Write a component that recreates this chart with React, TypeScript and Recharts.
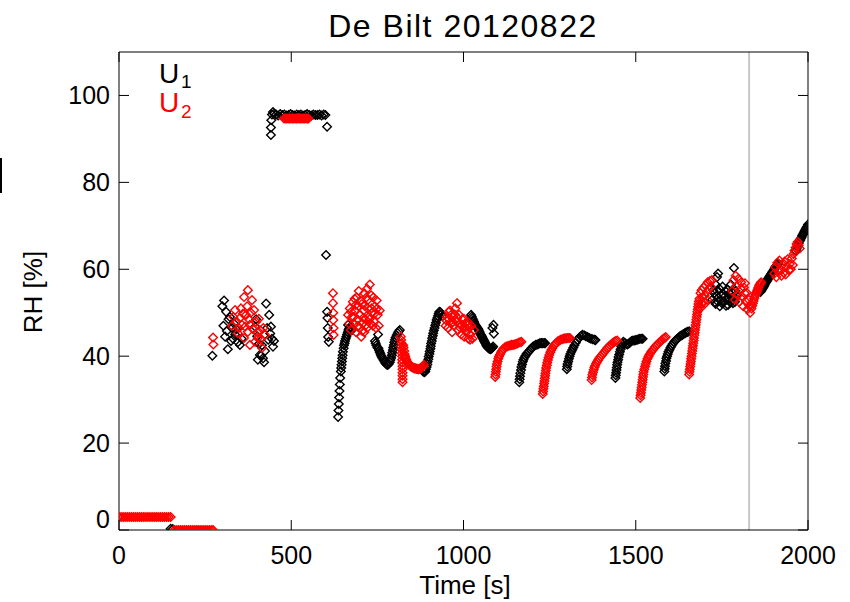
import { ScatterChart, Scatter, XAxis, YAxis, ReferenceLine } from "recharts";

type Pt = [number, number];

const xTicks = [0, 500, 1000, 1500, 2000];
const yTicks = [0, 20, 40, 60, 80, 100];
const markerTime = 1829;

// U1 (black), [time s, RH %]
const u1Bottom: Pt[] = [[150, 0.3], [156, 0.2]];
const u1Early: Pt[] = [
  [271, 40.1], [300, 51.5], [303, 47], [305, 52.8], [308, 44.5], [311, 50.2], [313, 45.8], [316, 41.6],
  [318, 48.5], [322, 49], [325, 43.5], [328, 46.5], [331, 44], [334, 47.5], [337, 45], [340, 46.2],
  [345, 43.2], [351, 42.6], [356, 44], [395, 46.8], [398, 48.5], [401, 44.6], [403, 39.2], [406, 42.8],
  [409, 40.3], [412, 40.1], [415, 42.5], [418, 39.5], [421, 38.6], [424, 41.2], [427, 52.1], [430, 46.5],
  [433, 43.8], [436, 49.5], [439, 45.2], [441, 46.8], [444, 44], [447, 42.2], [450, 43.5],
];
const u1Plateau: Pt[] = [
  [441, 90.9], [441, 92.6], [442, 94.3], [444, 95.6], [447, 96.2], [450, 95.8], [456, 95.6], [462, 95.4],
  [468, 95.7], [474, 95.5], [480, 95.6], [486, 95.4], [492, 95.5], [498, 95.7], [504, 95.5], [510, 95.4],
  [516, 95.6], [522, 95.5], [528, 95.6], [534, 95.4], [540, 95.5], [546, 95.7], [552, 95.5], [558, 95.4],
  [564, 95.6], [570, 95.5], [576, 95.5], [582, 95.6], [588, 95.4], [594, 95.6], [599, 95.5], [604, 92.8],
];
const u1Drop: Pt[] = [
  [601, 63.3], [604, 50.2], [605, 48.8], [606, 46.5], [607, 44.4], [609, 43.3],
  [636, 26], [637, 27.5], [638, 29], [639, 30.5], [640, 32], [641, 33.5], [642, 35], [644, 36.5],
  [645, 37.3], [646, 38], [647, 38.8], [648, 39.5], [649, 40.2], [650, 41], [652, 41.8], [653, 42.5],
  [655, 43], [656, 43.5], [658, 44], [660, 44.5], [662, 45], [664, 45.5], [665, 47.2], [666, 46],
  [668, 46.3], [670, 46.6], [672, 46.8], [674, 46.4], [676, 46],
];
const u1Midday: Pt[] = [
  [743, 43.5], [745, 43], [747, 42.5], [750, 42], [752, 45], [753, 41.8], [755, 41.3], [757, 40.9],
  [759, 40.5], [761, 40.1], [763, 39.8], [765, 39.5], [768, 39.1], [771, 38.7], [774, 38.3], [777, 38.1],
  [780, 38], [783, 38.2], [786, 38.6], [788, 39.1], [790, 39.6], [792, 40.2], [793, 40.8], [795, 41.4],
  [796, 42], [798, 42.6], [799, 43.2], [801, 43.8], [803, 44.3], [806, 44.8], [809, 45.3], [812, 45.7],
  [815, 46],
  [880, 36.8], [883, 36.5], [886, 36.3], [889, 36.5], [891, 37], [893, 37.5], [895, 38.1], [896, 38.7],
  [898, 39.3], [899, 39.9], [901, 40.5], [902, 41.1], [904, 41.7], [905, 42.3], [906, 42.9], [908, 43.5],
  [909, 44.1], [911, 44.7], [912, 45.3], [914, 45.9], [916, 46.5], [918, 47.1], [920, 47.7], [922, 48.3],
  [924, 48.8], [926, 49.3], [928, 49.8], [930, 50.2], [933, 50.1], [936, 49.7], [939, 49.2],
];
const u1Afternoon: Pt[] = [
  [1022, 49.5], [1024, 49.1], [1026, 48.7], [1028, 48.3], [1030, 48], [1032, 47.6], [1034, 47.2],
  [1036, 47], [1038, 46.8], [1040, 46.5], [1042, 46.3], [1044, 46], [1046, 45.7], [1048, 45.3],
  [1050, 45], [1052, 44.7], [1054, 44.4], [1056, 44.1], [1058, 43.8], [1060, 43.5], [1062, 43.2],
  [1064, 42.9], [1066, 42.6], [1068, 42.3], [1070, 42.1], [1072, 41.9], [1074, 41.8], [1076, 41.7],
  [1078, 41.6], [1080, 41.7], [1082, 41.8], [1084, 42], [1086, 42.2], [1084, 46.5], [1088, 45.2],
  [1087, 47.2],
];
const u1Cycles: Pt[] = [
  [1162, 34], [1163, 34.7], [1164, 35.4], [1165, 36.1], [1167, 36.8], [1168, 37.5], [1170, 38.1],
  [1172, 38.7], [1174, 39.2], [1177, 39.7], [1180, 40.1], [1183, 40.5], [1186, 40.8], [1190, 41.1],
  [1194, 41.5], [1198, 41.9], [1202, 42.2], [1206, 42.4], [1210, 42.6], [1214, 42.7], [1218, 42.8],
  [1222, 43], [1226, 43], [1230, 43], [1234, 43], [1237, 43],
  [1300, 37], [1301, 37.6], [1302, 38.2], [1304, 38.8], [1306, 39.4], [1308, 40], [1310, 40.5],
  [1313, 41], [1316, 41.5], [1319, 42], [1322, 42.5], [1326, 43.1], [1330, 43.7], [1335, 44.2],
  [1340, 44.6], [1345, 44.9], [1350, 44.8], [1355, 44.6], [1360, 44.4], [1365, 44.2], [1370, 44],
  [1375, 43.9], [1380, 43.8], [1383, 43.7],
  [1441, 35], [1442, 35.6], [1443, 36.2], [1444, 36.8], [1445, 37.4], [1446, 38], [1447, 38.6],
  [1449, 39.2], [1450, 39.8], [1452, 40.4], [1454, 41], [1456, 41.6], [1458, 42.2], [1461, 42.8],
  [1464, 43.3], [1468, 43.1], [1472, 42.8], [1476, 42.7], [1480, 42.9], [1484, 43.2], [1488, 43.5],
  [1492, 43.6], [1496, 43.6], [1500, 43.7], [1504, 43.8], [1508, 43.9], [1512, 44], [1516, 44], [1520, 44],
  [1583, 36.5], [1584, 37.1], [1585, 37.7], [1586, 38.3], [1588, 38.9], [1589, 39.5], [1591, 40],
  [1593, 40.5], [1595, 41], [1598, 41.5], [1601, 42], [1604, 42.4], [1607, 42.8], [1611, 43.2],
  [1615, 43.6], [1619, 43.9], [1623, 44.2], [1627, 44.5], [1631, 44.7], [1635, 44.9], [1639, 45.1],
  [1643, 45.3], [1647, 45.5], [1651, 45.6], [1655, 45.7],
];
const u1Late: Pt[] = [
  [1722, 53], [1725, 55.2], [1728, 54.5], [1730, 52.4], [1732, 52], [1734, 53.8], [1736, 55], [1738, 52.6],
  [1740, 53.5], [1742, 55.6], [1744, 51.5], [1746, 52.8], [1748, 54], [1750, 52.2], [1752, 56], [1754, 54.2],
  [1756, 52.5], [1758, 53.7], [1760, 55], [1762, 51.6], [1764, 53], [1766, 55.4], [1768, 51.8], [1770, 53.2],
  [1772, 54.5], [1774, 52.4], [1776, 56.5], [1778, 54.8], [1780, 53.5], [1782, 52.2], [1784, 55.5],
  [1786, 53.6], [1788, 52.5], [1790, 55], [1792, 54], [1739, 59], [1736, 58.2], [1785, 60.3], [1733, 56.4],
  [1862, 54.8], [1864, 55], [1866, 55.3], [1868, 55.5], [1870, 55.8], [1872, 56.1], [1874, 56.4],
  [1876, 56.7], [1878, 57], [1880, 57.2], [1882, 57.5], [1884, 57.8], [1886, 58], [1888, 58.3], [1890, 58.5],
  [1892, 58.8], [1894, 59], [1896, 59.3], [1898, 59.5], [1900, 59.8], [1902, 60], [1904, 60.3], [1906, 60.5],
  [1908, 60.8], [1910, 61], [1912, 61.2], [1914, 61.3],
  [1965, 64.2], [1967, 64.7], [1969, 65.2], [1971, 65.6], [1973, 66], [1975, 66.4], [1977, 66.7],
  [1979, 67], [1981, 67.3], [1983, 67.7], [1985, 68], [1987, 68.3], [1989, 68.6], [1991, 68.9],
  [1993, 69.2], [1995, 69.5], [1997, 69.8], [2000, 70.3],
];

// U2 (red)
const u2Bottom: Pt[] = [
  [0, 3], [6, 3], [12, 3], [18, 3], [24, 3], [30, 3], [36, 3], [42, 3], [48, 3], [54, 3], [60, 3], [66, 3],
  [72, 3], [78, 3], [84, 3], [90, 3], [96, 3], [102, 3], [108, 3], [114, 3], [120, 3], [126, 3], [132, 3],
  [138, 3], [144, 3], [150, 3],
  [160, 0], [166, 0], [172, 0], [178, 0], [184, 0], [190, 0], [196, 0], [202, 0], [208, 0], [214, 0],
  [220, 0], [226, 0], [232, 0], [238, 0], [244, 0], [250, 0], [256, 0], [262, 0], [268, 0], [273, 0],
];
const u2Early: Pt[] = [
  [273, 44.3], [274, 42.7], [328, 47], [332, 49], [337, 50.6], [341, 48], [345, 45.3], [348, 46.5],
  [351, 48.8], [354, 51], [357, 47.2], [360, 49.8], [363, 53.6], [363, 44.2], [366, 46.8], [369, 49.5],
  [372, 51.5], [374, 55.2], [374, 45.6], [377, 48.5], [380, 47.2], [380, 42.6], [383, 50], [386, 52.9],
  [389, 46.2], [392, 50.6], [395, 43.3], [398, 47.9], [401, 45.5], [403, 44.2], [406, 48.6], [409, 46],
  [412, 44], [415, 41.9], [419, 46.5], [424, 44.9],
];
const u2Plateau: Pt[] = [
  [479, 94.7], [483, 94.7], [487, 94.7], [491, 94.7], [495, 94.7], [499, 94.7], [503, 94.7], [507, 94.7],
  [511, 94.7], [515, 94.7], [519, 94.7], [523, 94.7], [527, 94.7], [531, 94.7], [535, 94.7], [539, 94.7],
  [543, 94.7], [547, 94.7], [550, 94.7],
];
const u2Drop: Pt[] = [[621, 54.5], [621, 52.2], [622, 50], [622, 48.3], [623, 46.5], [623, 44.9]];
const u2Blob: Pt[] = [
  [665, 49.5], [668, 47.5], [670, 51], [673, 46], [676, 49], [679, 52.5], [682, 47.5], [685, 50.5],
  [688, 45.5], [690, 53.5], [692, 48.5], [695, 51.5], [698, 46.5], [700, 49.5], [703, 44.5], [705, 52],
  [707, 47.5], [710, 50.5], [712, 45.5], [715, 48.5], [718, 53.5], [720, 46.5], [722, 51], [725, 49],
  [728, 56.5], [730, 47.5], [732, 54], [735, 50], [738, 53.5], [740, 48], [743, 51.5], [746, 46.5],
  [748, 52.8], [751, 49.5], [754, 47], [757, 50.5], [712, 54.5], [696, 55], [720, 55.5],
  [674, 50.2], [681, 49], [687, 51.8], [694, 47], [701, 52.8], [706, 45.8], [713, 51.6], [717, 47.2],
  [723, 53], [727, 48.5], [733, 51], [737, 47], [742, 49.8], [747, 50.8], [684, 53.2], [709, 48.8],
];
const u2Dip: Pt[] = [
  [818, 44.5], [819, 43.7], [820, 43], [820, 42.2], [821, 41.5], [821, 40.7], [822, 40], [822, 39.2],
  [822, 38.5], [823, 37.7], [823, 37], [823, 36.2], [823, 35.5], [823, 34.7], [823, 34],
  [825, 42.5], [826, 42], [828, 41.2], [829, 40.5], [831, 40], [832, 39.5], [834, 39.1], [836, 38.8],
  [838, 38.5], [840, 38.2], [843, 38], [845, 37.8], [848, 37.6], [850, 37.5], [853, 37.4], [855, 37.3],
  [858, 37.2], [860, 37.2], [863, 37.1], [865, 37.1], [868, 37], [870, 37], [873, 37.1], [875, 37.2],
  [878, 37.3], [880, 37.5], [883, 37.7], [885, 38],
];
const u2Noon: Pt[] = [
  [948, 47], [950, 48.2], [952, 49], [955, 46.5], [958, 48.5], [961, 50.5], [964, 47.5], [967, 45.5],
  [970, 49], [973, 47], [976, 51], [979, 48], [981, 52.2], [984, 46], [987, 49.5], [990, 47.5],
  [993, 45], [996, 48.5], [999, 46.5], [1002, 44.5], [1005, 47.5], [1008, 45.5], [1011, 48], [1014, 44],
  [1017, 46.5], [1020, 45], [1023, 47], [1026, 44], [1030, 46],
  [957, 50.2], [963, 49.4], [969, 47.8], [975, 49.6], [982, 48.8], [989, 46.6], [995, 47.2], [1001, 48.6],
  [1007, 46.6], [1013, 47.2], [1019, 43.8],
];
const u2Cycles: Pt[] = [
  [1092, 35.2], [1093, 35.8], [1094, 36.4], [1095, 37], [1096, 37.6], [1097, 38.2], [1099, 38.8],
  [1101, 39.4], [1103, 39.9], [1106, 40.4], [1109, 40.9], [1112, 41.3], [1116, 41.7], [1120, 42],
  [1124, 42.2], [1128, 42.3], [1132, 42.4], [1136, 42.5], [1140, 42.6], [1144, 42.6], [1148, 42.7],
  [1152, 42.8], [1156, 42.9], [1160, 43.1], [1164, 43.2], [1168, 43.3],
  [1230, 31.3], [1231, 31.9], [1232, 32.5], [1233, 33.1], [1234, 33.7], [1235, 34.3], [1236, 34.9],
  [1237, 35.5], [1238, 36.1], [1239, 36.7], [1240, 37.3], [1242, 37.9], [1243, 38.5], [1245, 39.1],
  [1247, 39.7], [1249, 40.3], [1252, 40.9], [1255, 41.4], [1258, 41.9], [1262, 42.4], [1266, 42.8],
  [1270, 43.1], [1274, 43.4], [1278, 43.6], [1282, 43.8], [1286, 43.9], [1290, 44], [1294, 44.1],
  [1298, 44.1], [1302, 44.2], [1306, 44.2], [1309, 44.2],
  [1372, 34.5], [1373, 35.1], [1374, 35.7], [1376, 36.3], [1378, 36.9], [1380, 37.4], [1382, 37.8],
  [1385, 38.3], [1388, 38.7], [1391, 39.1], [1394, 39.5], [1398, 39.9], [1402, 40.3], [1406, 40.7],
  [1410, 41.1], [1414, 41.5], [1418, 41.9], [1422, 42.2], [1426, 42.5], [1430, 42.8], [1434, 43.1],
  [1438, 43.3], [1442, 43.5], [1446, 43.6],
  [1513, 30.4], [1514, 31], [1515, 31.6], [1516, 32.2], [1517, 32.8], [1518, 33.4], [1519, 34],
  [1520, 34.6], [1521, 35.2], [1522, 35.8], [1523, 36.4], [1525, 37], [1527, 37.6], [1529, 38.2],
  [1531, 38.8], [1534, 39.4], [1537, 39.9], [1540, 40.4], [1544, 40.9], [1548, 41.3], [1552, 41.7],
  [1556, 42.1], [1560, 42.5], [1564, 42.8], [1568, 43.1], [1572, 43.4], [1576, 43.7], [1580, 44],
  [1584, 44.2], [1587, 44.4],
  [1655, 35.8], [1656, 36.4], [1657, 37], [1658, 37.6], [1659, 38.2], [1660, 38.8], [1661, 39.4],
  [1662, 40], [1663, 40.6], [1664, 41.2], [1665, 41.8], [1666, 42.4], [1667, 43], [1668, 43.6],
  [1669, 44.2], [1670, 44.8], [1671, 45.4], [1672, 46], [1673, 46.6], [1674, 47.2], [1675, 47.8],
  [1676, 48.4], [1677, 49], [1678, 49.6], [1679, 50.2], [1680, 50.8], [1681, 51.4], [1682, 52],
  [1683, 52.6], [1685, 53.2], [1688, 54.5], [1691, 55.2], [1694, 53.5], [1697, 55.8], [1700, 54],
  [1703, 56.3], [1706, 54.8], [1709, 57], [1712, 55.5], [1715, 57.3], [1718, 56], [1721, 57.5],
  [1687, 51], [1692, 52], [1696, 52.6], [1702, 52.2], [1708, 53],
];
const u2Late: Pt[] = [
  [1780, 55], [1784, 57.5], [1788, 53], [1790, 58.5], [1792, 56], [1796, 54], [1798, 57.8], [1800, 52.5],
  [1804, 55.5], [1808, 53.8], [1812, 51.5], [1816, 54.5], [1817, 56.8], [1820, 52.5], [1824, 50.8],
  [1828, 53], [1832, 50], [1834, 51.8], [1806, 57], [1814, 55.8], [1822, 54.6], [1830, 51.6],
  [1836, 51], [1838, 51.6], [1840, 52.2], [1842, 52.7], [1844, 53.3], [1846, 53.8], [1848, 54.2],
  [1850, 54.6], [1852, 55], [1854, 55.4], [1856, 55.8], [1858, 56.2], [1860, 56.5], [1862, 56.8], [1864, 57],
  [1902, 59], [1905, 60.5], [1908, 58.2], [1911, 61.5], [1914, 59.5], [1917, 62], [1920, 60], [1923, 58.5],
  [1926, 61], [1929, 59.2], [1932, 61.8], [1935, 58.8], [1938, 60.6], [1941, 62.3], [1944, 59.8],
  [1947, 61.2], [1950, 60], [1953, 62.5], [1956, 61],
  [1958, 63.5], [1961, 64.3], [1964, 65], [1967, 65.8], [1970, 66.3], [1973, 65.5], [1976, 64.8],
];

const toRows = (pts: Pt[]) => pts.map(([t, rh]) => ({ t, rh }));
const u1Data = toRows([...u1Bottom, ...u1Early, ...u1Plateau, ...u1Drop, ...u1Midday, ...u1Afternoon, ...u1Cycles, ...u1Late]);
const u2Data = toRows([...u2Bottom, ...u2Early, ...u2Plateau, ...u2Drop, ...u2Blob, ...u2Dip, ...u2Noon, ...u2Cycles, ...u2Late]);

const W = 850;
const H = 602;
const LEFT = 119;
const RIGHT = 808;
const TOP = 52;
const BOTTOM = 530;
const X_AXIS_H = 30;
const Y_AXIS_W = 60;
const FONT = "'Liberation Sans', Arial, Helvetica, sans-serif";

function diamond(color: string) {
  return (props: any) => {
    const { cx, cy } = props;
    if (cx == null || cy == null) return <g />;
    const r = 4.3;
    return (
      <path
        d={`M${cx} ${cy - r}L${cx + r} ${cy}L${cx} ${cy + r}L${cx - r} ${cy}Z`}
        fill="none"
        stroke={color}
        strokeWidth={1.4}
      />
    );
  };
}

function renderBottomTick(props: any) {
  const { x, payload } = props;
  return (
    <g>
      <line x1={x} y1={BOTTOM} x2={x} y2={BOTTOM - 10} stroke="#000" />
      <line x1={x} y1={TOP} x2={x} y2={TOP + 10} stroke="#000" />
      <text x={x} y={564} textAnchor="middle" fontSize={25} fontFamily={FONT} fill="#000">
        {payload.value}
      </text>
    </g>
  );
}

function renderLeftTick(props: any) {
  const { y, payload } = props;
  // the 0 label sits a bit above the axis corner
  const ly = payload.value === 0 ? y - 11 : y;
  return (
    <g>
      <line x1={LEFT} y1={y} x2={LEFT + 10} y2={y} stroke="#000" />
      <line x1={RIGHT} y1={y} x2={RIGHT - 10} y2={y} stroke="#000" />
      <text x={110} y={ly + 9} textAnchor="end" fontSize={25} fontFamily={FONT} fill="#000">
        {payload.value}
      </text>
    </g>
  );
}

export default function App() {
  return (
    <div style={{ position: "absolute", left: 0, top: 0, width: W, height: H, background: "#fff" }}>
      <ScatterChart
        width={W}
        height={H}
        margin={{ top: TOP, right: W - RIGHT, bottom: H - BOTTOM - X_AXIS_H, left: LEFT - Y_AXIS_W }}
      >
        <XAxis
          dataKey="t"
          type="number"
          domain={[0, 2000]}
          ticks={xTicks}
          interval={0}
          allowDataOverflow
          height={X_AXIS_H}
          tickLine={false}
          axisLine={{ stroke: "#000" }}
          tick={renderBottomTick}
        />
        <YAxis
          dataKey="rh"
          type="number"
          domain={[0, 110]}
          ticks={yTicks}
          interval={0}
          allowDataOverflow
          width={Y_AXIS_W}
          tickLine={false}
          axisLine={{ stroke: "#000" }}
          tick={renderLeftTick}
        />
        <Scatter data={u1Data} shape={diamond("#000")} isAnimationActive={false} />
        <Scatter data={u2Data} shape={diamond("#ff0000")} isAnimationActive={false} />
        <ReferenceLine x={markerTime} stroke="#c8c8c8" strokeWidth={2} />
      </ScatterChart>
      <svg
        width={W}
        height={H}
        style={{ position: "absolute", left: 0, top: 0, pointerEvents: "none" }}
        fontFamily={FONT}
      >
        <line x1={LEFT} y1={TOP} x2={RIGHT} y2={TOP} stroke="#000" />
        <line x1={RIGHT} y1={TOP} x2={RIGHT} y2={BOTTOM} stroke="#000" />
        <text x={463} y={37} textAnchor="middle" fontSize={32} letterSpacing={1.5} fill="#000">
          De Bilt 20120822
        </text>
        <text x={465} y={594} textAnchor="middle" fontSize={26} fill="#000">
          Time [s]
        </text>
        <text x={42} y={292} textAnchor="middle" fontSize={26} fill="#000" transform="rotate(-90 42 292)">
          RH [%]
        </text>
        <text x={159} y={83} fontSize={28} fill="#000">U</text>
        <text x={181} y={88} fontSize={19} fill="#000">1</text>
        <text x={159} y={112} fontSize={28} fill="#ff0000">U</text>
        <text x={181} y={118} fontSize={19} fill="#ff0000">2</text>
        <line x1={1} y1={158} x2={1} y2={193} stroke="#000" strokeWidth={2} />
      </svg>
    </div>
  );
}
